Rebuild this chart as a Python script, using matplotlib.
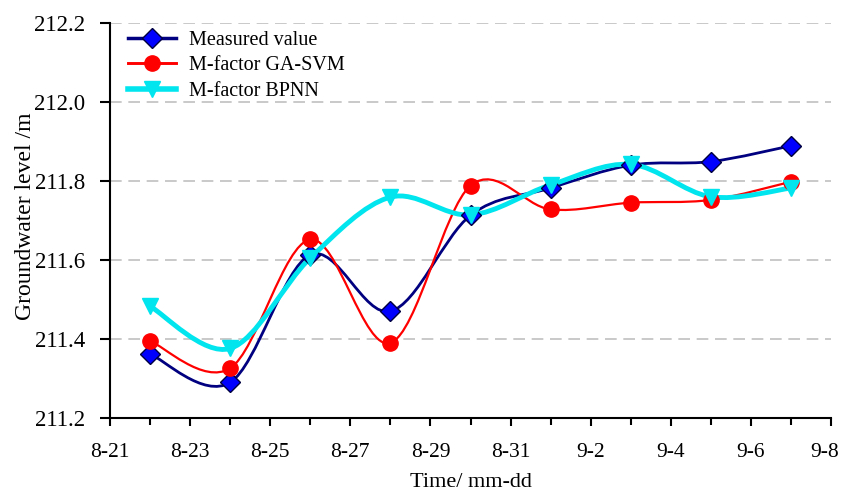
import numpy as np
import matplotlib.pyplot as plt
from matplotlib.path import Path
from matplotlib.patches import PathPatch
from matplotlib.lines import Line2D
from matplotlib.transforms import ScaledTranslation

plt.rcParams['font.family'] = ['Liberation Serif', 'DejaVu Serif']

# days counted from 8-21
days = [1, 3, 5, 7, 9, 11, 13, 15, 17]
measured = [211.362, 211.290, 211.613, 211.470, 211.713, 211.782, 211.840, 211.849, 211.889]
ga_svm = [211.395, 211.326, 211.652, 211.390, 211.788, 211.728, 211.745, 211.752, 211.798]
bpnn = [211.483, 211.376, 211.605, 211.759, 211.714, 211.790, 211.842, 211.760, 211.782]

tick_days = [0, 2, 4, 6, 8, 10, 12, 14, 16, 18]
tick_labels = ["8-21", "8-23", "8-25", "8-27", "8-29", "8-31", "9-2", "9-4", "9-6", "9-8"]


def smooth_path(x, y):
    # excel style smoothed line: bezier segments through every point
    pts = np.column_stack([x, y]).astype(float)
    n = len(pts)
    verts = [pts[0]]
    codes = [Path.MOVETO]
    for i in range(n - 1):
        p0 = pts[i - 1] if i > 0 else pts[i]
        p1 = pts[i]
        p2 = pts[i + 1]
        p3 = pts[i + 2] if i + 2 < n else pts[i + 1]
        c1 = p1 + (p2 - p0) / 6.0
        c2 = p2 - (p3 - p1) / 6.0
        verts += [c1, c2, p2]
        codes += [Path.CURVE4] * 3
    return Path(verts, codes)


fig = plt.figure(figsize=(8.42, 4.92), dpi=100)
ax = fig.add_axes([0.1306, 0.1504, 0.8564, 0.803])

series = [
    (measured, '#000080', 2.0, 'D', '#0000FF', '#000040', 10, 'Measured value'),
    (ga_svm, '#FF0000', 1.6, 'o', '#FF0000', '#FF0000', 11, 'M-factor GA-SVM'),
    (bpnn, '#00E5EE', 3.5, 'v', '#00E5EE', '#00E5EE', 11, 'M-factor BPNN'),
]

handles = []
for vals, lc, lw, mk, mfc, mec, ms, name in series:
    ax.add_patch(PathPatch(smooth_path(days, vals), facecolor='none',
                           edgecolor=lc, lw=lw, zorder=3))
    ax.plot(days, vals, linestyle='none', marker=mk, markersize=ms,
            markerfacecolor=mfc, markeredgecolor=mec, markeredgewidth=1, zorder=4)
    handles.append(Line2D([0], [0], color=lc, lw=lw + 0.5, marker=mk, markersize=ms,
                          markerfacecolor=mfc, markeredgecolor=mec, label=name))

ax.set_xlim(0, 18)
ax.set_ylim(211.2, 212.2)
ax.set_xticks(tick_days)
ax.set_xticklabels(tick_labels)
ax.set_xticks(days, minor=True)
ax.set_yticks([211.2, 211.4, 211.6, 211.8, 212.0, 212.2])
ax.set_yticklabels(['211.2', '211.4', '211.6', '211.8', '212.0', '212.2'])

ax.yaxis.grid(True, linestyle=(0, (7, 4)), color='#c0c0c0', lw=1.2)
ax.set_axisbelow(True)
ax.spines['top'].set_visible(False)
ax.spines['right'].set_visible(False)
ax.spines['left'].set_linewidth(1.5)
ax.spines['bottom'].set_linewidth(1.5)
ax.tick_params(axis='x', which='major', labelsize=15.5, length=6, width=1.5, direction='out', pad=12)
ax.tick_params(axis='y', which='major', labelsize=16.5, length=7, width=1.5, direction='out', pad=11)
ax.tick_params(axis='x', which='minor', length=5, width=1.5, direction='out')

# keep the last date label inside the figure
last = ax.get_xticklabels()[-1]
last.set_transform(last.get_transform() + ScaledTranslation(-6 / 100, 0, fig.dpi_scale_trans))

ax.set_xlabel('Time/ mm-dd', fontsize=16, labelpad=8)
ax.set_ylabel('Groundwater level /m', fontsize=17)
ax.yaxis.set_label_coords(-0.103, 0.51)

ax.legend(handles=handles, loc='upper left', frameon=False, fontsize=14.5,
          handlelength=2.4, handletextpad=0.6, labelspacing=0.3,
          bbox_to_anchor=(0.0, 1.025))

fig.savefig('out.png', dpi=100)
